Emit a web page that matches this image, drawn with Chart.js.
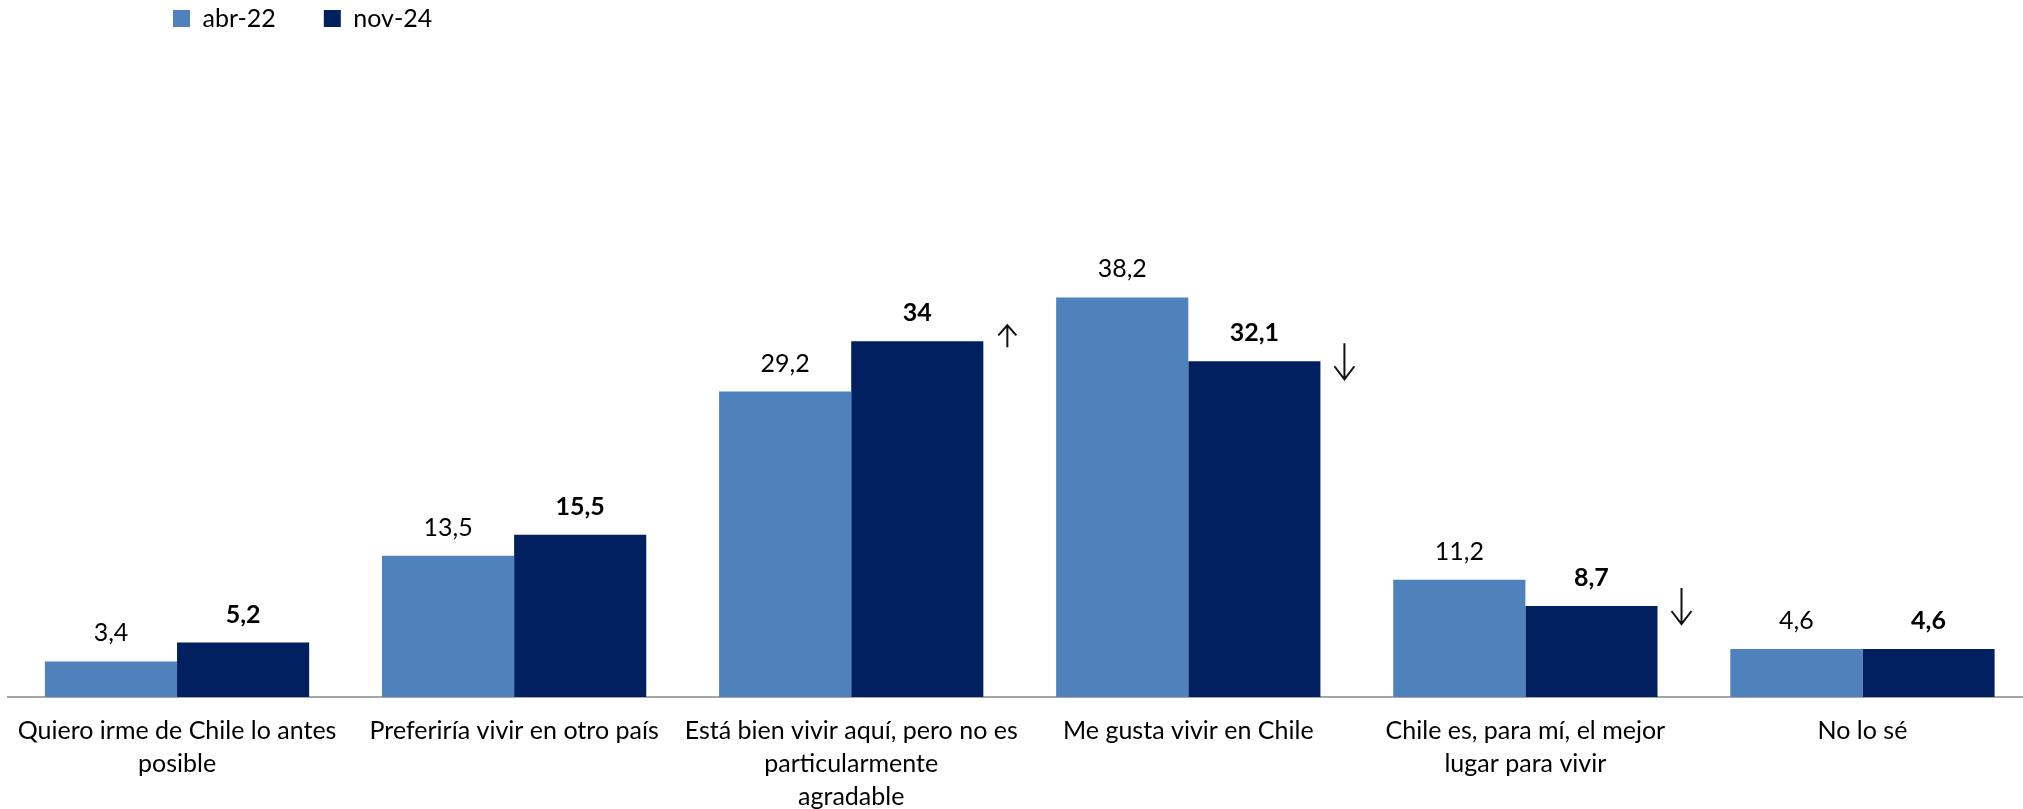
<!DOCTYPE html>
<html>
<head>
<meta charset="utf-8">
<script src="https://cdn.jsdelivr.net/npm/chart.js@4.4.0/dist/chart.umd.min.js"></script>
<style>
  html, body { margin: 0; padding: 0; background: #fff; overflow: hidden; }
  #wrap { width: 2031px; height: 809px; position: relative; }
</style>
</head>
<body>
<div id="wrap"><canvas id="grafico"></canvas></div>
<script>
// categorias (ya cortadas en lineas como en el original)
const categorias = [
  ['Quiero irme de Chile lo antes', 'posible'],
  ['Preferiría vivir en otro país'],
  ['Está bien vivir aquí, pero no es', 'particularmente', 'agradable'],
  ['Me gusta vivir en Chile'],
  ['Chile es, para mí, el mejor', 'lugar para vivir'],
  ['No lo sé']
];
const series = ['abr-22', 'nov-24'];
const abr22 = [3.4, 13.5, 29.2, 38.2, 11.2, 4.6];
const nov24 = [5.2, 15.5, 34, 32.1, 8.7, 4.6];
// 1 = sube, -1 = baja, 0 = sin flecha
const tendencia = [0, 0, 1, -1, -1, 0];

const fmt = v => String(v).replace('.', ',');

// etiquetas de valor sobre cada barra
const etiquetas = {
  id: 'etiquetas',
  afterDatasetsDraw(chart) {
    const ctx = chart.ctx;
    ctx.save();
    ctx.fillStyle = '#000';
    ctx.textAlign = 'center';
    ctx.textBaseline = 'alphabetic';
    chart.data.datasets.forEach((ds, i) => {
      const meta = chart.getDatasetMeta(i);
      ctx.font = (i === 1 ? 'bold ' : '') + '25px Lato';
      meta.data.forEach((bar, j) => {
        ctx.fillText(fmt(ds.data[j]), bar.x, bar.y - 20);
      });
    });
    // flechas junto a la barra de nov-24
    const meta = chart.getDatasetMeta(1);
    ctx.strokeStyle = '#111';
    ctx.lineWidth = 2;
    meta.data.forEach((bar, j) => {
      const t = tendencia[j];
      if (!t) return;
      const x = bar.x + bar.width / 2 + 24;
      ctx.beginPath();
      if (t > 0) {
        const y0 = bar.y - 16, y1 = bar.y + 6;
        ctx.moveTo(x, y1); ctx.lineTo(x, y0);
        ctx.moveTo(x - 9, y0 + 10); ctx.lineTo(x, y0); ctx.lineTo(x + 9, y0 + 10);
      } else {
        const y0 = bar.y - 18, y1 = bar.y + 18;
        ctx.moveTo(x, y0); ctx.lineTo(x, y1);
        ctx.moveTo(x - 10, y1 - 13); ctx.lineTo(x, y1); ctx.lineTo(x + 10, y1 - 13);
      }
      ctx.stroke();
    });
    ctx.restore();
  }
};

// mover la leyenda a su sitio (arriba a la izquierda)
const moverLeyenda = {
  id: 'moverLeyenda',
  afterLayout(chart) {
    const lg = chart.legend;
    const pad = lg.options.labels.padding;
    lg.left = 173 - pad;
    lg.top = 10 - pad - 4;
  }
};

Chart.defaults.font.family = 'Lato';
Chart.defaults.color = '#000';

const ctx = document.getElementById('grafico').getContext('2d');
const grafico = new Chart(ctx, {
  type: 'bar',
  data: {
    labels: categorias,
    datasets: [
      { label: series[0], data: abr22, backgroundColor: '#4F81BD' },
      { label: series[1], data: nov24, backgroundColor: '#002060' }
    ]
  },
  options: {
    responsive: true,
    maintainAspectRatio: false,
    animation: false,
    layout: { padding: { left: 8, right: 0, top: 0, bottom: -21 } },
    datasets: {
      bar: { categoryPercentage: 0.784, barPercentage: 1, borderWidth: 0 }
    },
    plugins: {
      tooltip: { enabled: false },
      legend: {
        position: 'top',
        align: 'start',
        labels: {
          boxWidth: 17,
          boxHeight: 17,
          padding: 48,
          font: { size: 25 },
          color: '#000'
        }
      }
    },
    scales: {
      x: {
        grid: { display: false, drawTicks: false },
        border: { display: true, color: '#A6A6A6', width: 2 },
        ticks: {
          autoSkip: false,
          maxRotation: 0,
          padding: 17,
          font: { size: 25, lineHeight: 1.32 },
          color: '#000'
        }
      },
      y: {
        display: false,
        min: 0,
        max: 58.7
      }
    }
  },
  plugins: [etiquetas, moverLeyenda]
});
</script>
</body>
</html>
